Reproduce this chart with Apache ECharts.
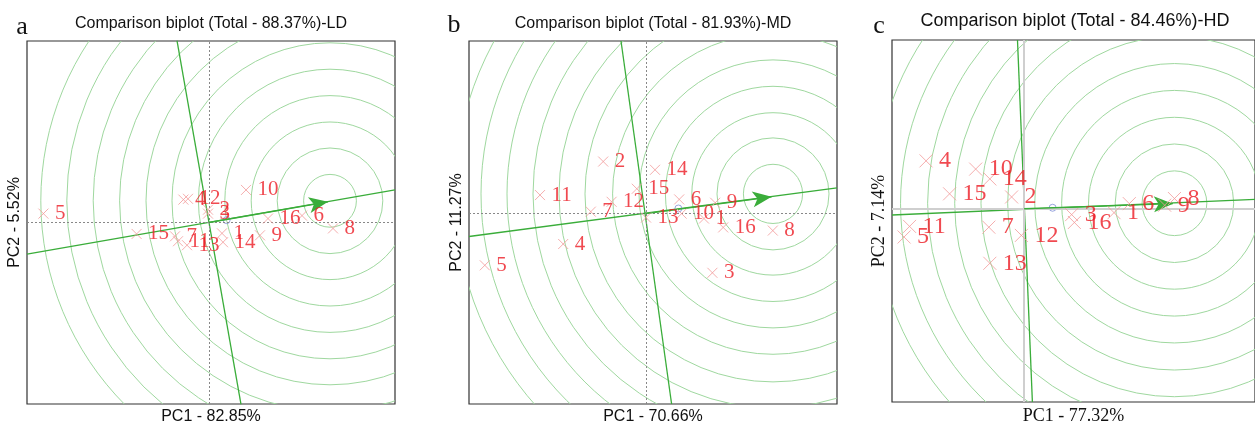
<!DOCTYPE html>
<html><head><meta charset="utf-8">
<script src="https://cdn.jsdelivr.net/npm/echarts@6/dist/echarts.min.js"></script>
<style>html,body{margin:0;padding:0;background:#fff}#chart{width:1255px;height:430px}</style>
</head><body><div id="chart"></div>
<script>
// ---------- data ----------
const genotypes = ['1','2','3','4','5','6','7','8','9','10','11','12','13','14','15','16'];

// Panel a : LD
const titleLD = 'Comparison biplot (Total - 88.37%)-LD';
const pc1NameLD = 'PC1 - 82.85%';
const pc2NameLD = 'PC2 - 5.52%';
const pc1LD = [0.325,-0.025,-0.025,-0.64,-4.14,2.325,-0.85,3.1,1.275,0.925,-0.775,-0.525,-0.55,0.35,-1.81,1.475];
const pc2LD = [-0.275,0.325,0.225,0.58,0.225,0.175,-0.35,-0.15,-0.325,0.825,-0.475,0.6,-0.575,-0.5,-0.29,0.1];
const aecLD = [[-4.55,-0.80],[4.65,0.825]];
const perpLD = [[-0.80,4.61],[0.80,-4.61]];
const arrowLD = [2.975,0.525];
const idealLD = [3.025,0.55];
const ringsLD = [0.66,1.32,1.97,2.63,3.29,3.95,4.6,5.26,5.92,6.58,7.23];
const meanLD = [0.44,0.06];
const xRangeLD = [-4.55,4.65], yRangeLD = [-4.6,4.6];

// Panel b : MD
const titleMD = 'Comparison biplot (Total - 81.93%)-MD';
const pc1NameMD = 'PC1 - 70.66%';
const pc2NameMD = 'PC2 - 11.27%';
const pc1MD = [1.45,-1.07,1.66,-2.07,-4.03,0.83,-1.38,3.17,1.73,0.89,-2.65,-0.86,0.0,0.225,-0.23,1.93];
const pc2MD = [-0.125,1.32,-1.5,-0.77,-1.31,0.36,0.05,-0.43,0.275,0.0,0.47,0.3,-0.1,1.11,0.63,-0.35];
const aecMD = [[-4.425,-0.58],[4.775,0.65]];
const perpMD = [[-0.625,4.375],[0.64,-4.825]];
const arrowMD = [3.14,0.425];
const idealMD = [3.175,0.50];
const ringsMD = [0.74,1.4,2.03,2.69,3.35,4.01,4.7,5.35,6.0,6.65,7.3,7.95];
const meanMD = [0.81,0.13];
const xRangeMD = [-4.425,4.775], yRangeMD = [-4.825,4.375];

// Panel c : HD
const titleHD = 'Comparison biplot (Total - 84.46%)-HD';
const pc1NameHD = 'PC1 - 77.32%';
const pc2NameHD = 'PC2 - 7.14%';
const pc1HD = [2.29,-0.32,1.21,-2.5,-3.06,2.68,-0.9,3.83,3.58,-1.235,-2.92,-0.07,-0.875,-0.875,-1.9,1.28];
const pc2HD = [-0.1,0.3,-0.15,1.22,-0.72,0.13,-0.47,0.26,0.09,1.01,-0.45,-0.68,-1.39,0.76,0.38,-0.35];
const aecHD = [[-3.3675,-0.16],[5.8825,0.238]];
const perpHD = [[-0.17,4.3],[0.21,-4.925]];
const arrowHD = [3.79,0.13];
const idealHD = [3.83,0.14];
const ringsHD = [0.825,1.51,2.19,2.875,3.56,4.25,4.93,5.6,6.29,6.98,7.65];
const meanHD = [0.725,0.025];
const xRangeHD = [-3.3675,5.8825], yRangeHD = [-4.925,4.3];

// ---------- styling ----------
const RING = '#9fd89f';
const GREEN = '#3aad3a';
const MARK = '#f39a9a';
const LABEL = '#ec1c24';
const XPATH = 'path://M0,0L10,10M0,10L10,0';

const panels = [
  {pc1:pc1LD, pc2:pc2LD, aec:aecLD, perp:perpLD, arrow:arrowLD, ideal:idealLD, rings:ringsLD, mean:meanLD,
   xr:xRangeLD, yr:yRangeLD, xName:pc1NameLD, yName:pc2NameLD, grid:{left:27, top:41, width:368, height:368},
   cross:{type:[2,2], color:'#888', width:1}, fs:21, ms:10, nameFont:'Liberation Sans', nameSize:16},
  {pc1:pc1MD, pc2:pc2MD, aec:aecMD, perp:perpMD, arrow:arrowMD, ideal:idealMD, rings:ringsMD, mean:meanMD,
   xr:xRangeMD, yr:yRangeMD, xName:pc1NameMD, yName:pc2NameMD, grid:{left:469, top:41, width:368, height:368},
   cross:{type:[2,2], color:'#888', width:1}, fs:21, ms:10, nameFont:'Liberation Sans', nameSize:16},
  {pc1:pc1HD, pc2:pc2HD, aec:aecHD, perp:perpHD, arrow:arrowHD, ideal:idealHD, rings:ringsHD, mean:meanHD,
   xr:xRangeHD, yr:yRangeHD, xName:pc1NameHD, yName:pc2NameHD, grid:{left:892, top:40, width:370, height:369},
   cross:{type:'solid', color:'#cfcfcf', width:2}, fs:24, ms:13, nameFont:'Liberation Serif', nameSize:18}
];

const grids = [], xAxes = [], yAxes = [], series = [];
panels.forEach((p, i) => {
  grids.push(Object.assign({show:true, borderColor:'#333', borderWidth:1.2, backgroundColor:'transparent', containLabel:false}, p.grid));
  const axisCommon = {type:'value', gridIndex:i, axisLine:{show:false}, axisTick:{show:false}, axisLabel:{show:false}, splitLine:{show:false},
    nameLocation:'middle', nameTextStyle:{fontFamily:p.nameFont, fontSize:p.nameSize, color:'#111'}};
  xAxes.push(Object.assign({}, axisCommon, {min:p.xr[0], max:p.xr[1], name:p.xName, nameGap:5}));
  yAxes.push(Object.assign({}, axisCommon, {min:p.yr[0], max:p.yr[1], name:p.yName, nameGap:4}));

  // concentric circles around the ideal genotype
  series.push({
    type:'custom', xAxisIndex:i, yAxisIndex:i, clip:true, silent:true, z:1,
    data: p.rings.map(r => [p.ideal[0], p.ideal[1], r]),
    encode:{x:0, y:1},
    renderItem:(params, api) => {
      const c = api.coord([api.value(0), api.value(1)]);
      const r = api.size([api.value(2), 0])[0];
      return {type:'circle', shape:{cx:c[0], cy:c[1], r:r}, style:{fill:'none', stroke:RING, lineWidth:1}};
    }
  });
  // crosshair at origin
  series.push({
    type:'scatter', xAxisIndex:i, yAxisIndex:i, data:[], silent:true, z:2,
    markLine:{silent:true, symbol:['none','none'], animation:false, label:{show:false},
      lineStyle:p.cross, data:[{xAxis:0},{yAxis:0}]}
  });
  // average environment axis & its perpendicular
  series.push({type:'line', xAxisIndex:i, yAxisIndex:i, data:p.aec, showSymbol:false, symbol:'none', silent:true, z:3,
    lineStyle:{color:GREEN, width:1.3}, animation:false});
  series.push({type:'line', xAxisIndex:i, yAxisIndex:i, data:p.perp, showSymbol:false, symbol:'none', silent:true, z:3,
    lineStyle:{color:GREEN, width:1.3}, animation:false});
  // arrow
  series.push({
    type:'scatter', xAxisIndex:i, yAxisIndex:i, data:[], silent:true, z:4,
    markLine:{silent:true, animation:false, label:{show:false}, symbol:['none','arrow'], symbolSize:[12,19],
      lineStyle:{color:GREEN, width:1.3, type:'solid'}, itemStyle:{color:GREEN},
      data:[[{coord:[0,0]},{coord:p.arrow}]]}
  });
  // average environment marker
  series.push({type:'scatter', xAxisIndex:i, yAxisIndex:i, data:[p.mean], symbol:'circle', symbolSize:7, z:4, silent:true,
    itemStyle:{color:'transparent', borderColor:'#7f8fd6', borderWidth:1}});
  // genotypes
  series.push({
    type:'scatter', xAxisIndex:i, yAxisIndex:i, z:5, silent:true,
    data: p.pc1.map((x, k) => [x, p.pc2[k], genotypes[k]]),
    symbol:XPATH, symbolSize:p.ms,
    itemStyle:{color:'none', borderColor:MARK, borderWidth:1},
    label:{show:true, position:'right', distance:4, formatter:q => q.data[2],
      color:LABEL, fontFamily:'Liberation Serif', fontSize:p.fs}
  });
});

const graphics = [
  {type:'text', x:211, y:24, style:{text:titleLD, font:'16px "Liberation Sans"', fill:'#111', textAlign:'center', textVerticalAlign:'middle'}},
  {type:'text', x:653, y:24, style:{text:titleMD, font:'16px "Liberation Sans"', fill:'#111', textAlign:'center', textVerticalAlign:'middle'}},
  {type:'text', x:1075, y:21, style:{text:titleHD, font:'18px "Liberation Sans"', fill:'#111', textAlign:'center', textVerticalAlign:'middle'}},
  {type:'text', x:22, y:27, style:{text:'a', font:'26px "Liberation Serif"', fill:'#111', textAlign:'center', textVerticalAlign:'middle'}},
  {type:'text', x:454, y:25, style:{text:'b', font:'26px "Liberation Serif"', fill:'#111', textAlign:'center', textVerticalAlign:'middle'}},
  {type:'text', x:879, y:26, style:{text:'c', font:'26px "Liberation Serif"', fill:'#111', textAlign:'center', textVerticalAlign:'middle'}}
];

const chart = echarts.init(document.getElementById('chart'), null, {renderer:'canvas'});
chart.setOption({
  animation:false,
  backgroundColor:'#fff',
  grid:grids, xAxis:xAxes, yAxis:yAxes, series:series, graphic:graphics
});
</script></body></html>
